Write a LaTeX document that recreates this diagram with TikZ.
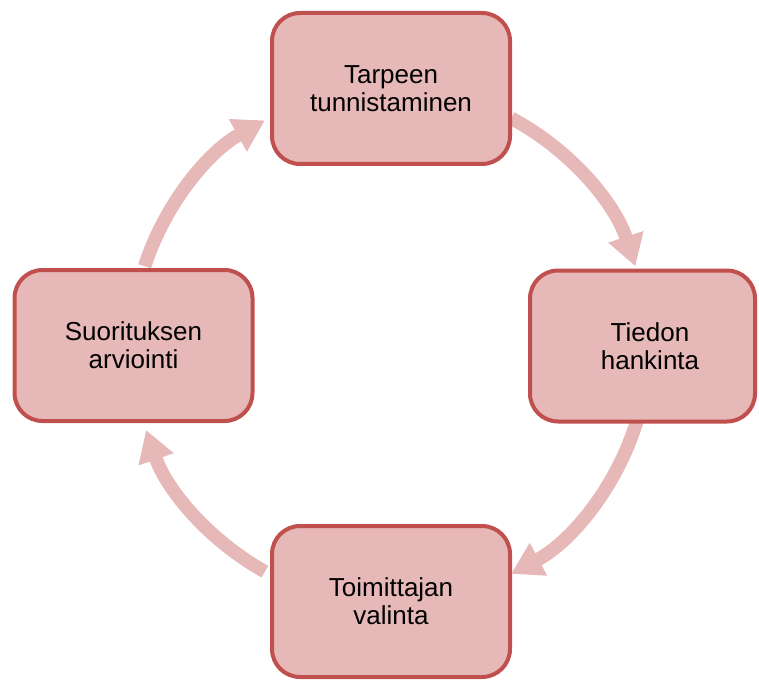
\documentclass[tikz,border=0pt]{standalone}
\usepackage{fontspec}
\setmainfont{Liberation Sans}
\definecolor{boxfill}{RGB}{230,184,183}
\definecolor{boxline}{RGB}{192,80,77}
\definecolor{arrowpink}{RGB}{230,184,183}
\usetikzlibrary{arrows.meta,calc}

\begin{document}
\begin{tikzpicture}[x=1pt,y=1pt,
  stage/.style={draw=boxline,fill=boxfill,line width=4pt,rounded corners=28pt,
    minimum width=238pt,minimum height=151pt,align=center,
    font=\fontsize{26}{28}\selectfont},
  cycarrow/.style={draw=arrowpink,line width=13.5pt,-{Triangle[width=35pt,length=31pt]}}]
  \useasboundingbox (0,0) rectangle (759,681);
  \coordinate (hub) at (390,335);
  % arrows first, the boxes go over their ends
  \foreach \n/\a/\b in {ne/62/18, se/-17/-62, sw/241/199, nw/162/119}{
    \coordinate (\n) at ($(hub)+(\a:258)$);
    \draw[cycarrow] (\n) arc[start angle=\a, end angle=\b, radius=258];
  }
  \node[stage] (need) at (391,592.5) {Tarpeen\\tunnistaminen};
  \node[stage,minimum width=225pt] (info) at (642.5,335)
    {\hspace*{15pt}Tiedon\\\hspace*{15pt}hankinta};
  \node[stage] (supplier) at (391,79.5) {Toimittajan\\valinta};
  \node[stage] (review) at (133.5,335.5) {Suorituksen\\arviointi};
\end{tikzpicture}
\end{document}
